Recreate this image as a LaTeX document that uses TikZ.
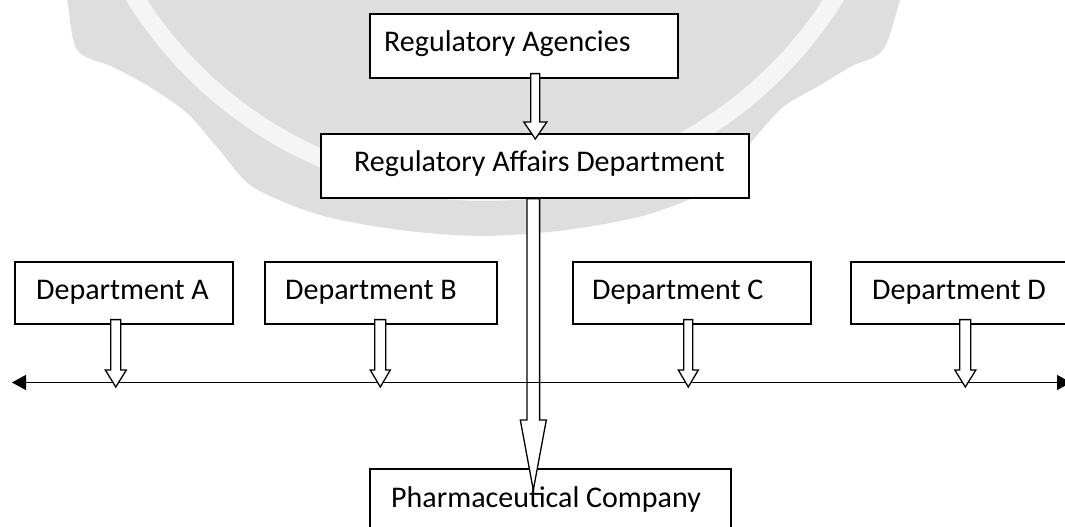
\documentclass[tikz,border=0pt]{standalone}
\usepackage{fontspec}
\setmainfont{Carlito}
\usetikzlibrary{calc,arrows.meta}
\tikzset{
  box/.style={draw=black, line width=1.6pt, fill=white, anchor=north west, inner sep=0pt},
  lbl/.style={anchor=base west, inner sep=0pt, font=\fontsize{30}{36}\selectfont},
  barrow/.style={draw=black, fill=white, line width=1.3pt, line join=miter},
  hline/.style={line width=1.4pt, {Triangle[length=14pt,width=15pt]}-{Triangle[length=14pt,width=15pt]}},
  wm/.style={fill=black!13, draw=none},
  wmring/.style={draw=black!4, line width=18pt},
}
% #1 start, #2 tip, #3 shaft half width, #4 head half width, #5 head length
\newcommand\blockarr[5]{%
  \draw[barrow] ($(#1)+(-#3,0)$) -- ($(#2)+(-#3,-#5)$) -- ($(#2)+(-#4,-#5)$) -- (#2)
    -- ($(#2)+(#4,-#5)$) -- ($(#2)+(#3,-#5)$) -- ($(#1)+(#3,0)$) -- cycle;}
\begin{document}
\begin{tikzpicture}[x=1pt,y=-1pt]
\useasboundingbox (0,0) rectangle (1065,527);
% faint watermark
\begin{scope}
  \clip (0,0) rectangle (1065,527);
  \fill[wm] plot[smooth cycle] coordinates {(60,-10) (67,0) (77,50) (113,67) (150,87) (187,113) (217,147) (253,187) (320,215) (400,230) (483,236) (566,230) (646,215) (713,187) (753,140) (783,107) (817,87) (850,67) (883,50) (900,0) (905,-10) (483,-30)};
  \draw[wmring] (485,-220) circle[radius=412];
\end{scope}

% boxes
\node[box, minimum width=308pt, minimum height=64pt] (ra) at (369,13) {};
\node[box, minimum width=428pt, minimum height=64pt] (rad) at (320,133) {};
\node[box, minimum width=218pt, minimum height=62pt] (da) at (14,261) {};
\node[box, minimum width=232pt, minimum height=62pt] (db) at (264,261) {};
\node[box, minimum width=238pt, minimum height=62pt] (dc) at (572,261) {};
\node[box, minimum width=230pt, minimum height=62pt] (dd) at (850,261) {};
\node[box, minimum width=361pt, minimum height=66pt] (ph) at (369,468) {};

% labels
\node[lbl] (ra-t) at (384,52) {Regulatory Agencies};
\node[lbl] (rad-t) at (354,171) {Regulatory Affairs Department};
\node[lbl] (da-t) at (36,299) {Department A};
\node[lbl] (db-t) at (285,299) {Department B};
\node[lbl] (dc-t) at (592,299) {Department C};
\node[lbl] (dd-t) at (872,299) {Department D};

% connector coordinates
\coordinate (a1s) at ($(ra.south)+(11.5,-5)$);
\coordinate (a1e) at ($(a1s |- rad.north)+(0,6)$);
\coordinate (a2s) at ($(rad.south)+(-1.5,0)$);
\coordinate (a2e) at ($(a2s |- ph.north)+(0,22)$);
\coordinate (hl) at (12,382.5);
\coordinate (hr) at (1071,382.5);
\coordinate (dAs) at ($(da.south)+(-8,-5)$);
\coordinate (dBs) at ($(db.south)+(-0.5,-5)$);
\coordinate (dCs) at ($(dc.south)+(-3.5,-5)$);
\coordinate (dDs) at ($(dd.south)+(-0.5,-5)$);
\coordinate (dAe) at ($(dAs |- hl)+(0,4.5)$);
\coordinate (dBe) at ($(dBs |- hl)+(0,4.5)$);
\coordinate (dCe) at ($(dCs |- hl)+(0,4.5)$);
\coordinate (dDe) at ($(dDs |- hl)+(0,4.5)$);

% connectors
\blockarr{a1s}{a1e}{4.5}{11.5}{17}
\blockarr{a2s}{a2e}{6.3}{13}{70}
\draw[hline] (hl) -- (hr);
\blockarr{dAs}{dAe}{5}{10.5}{17}
\blockarr{dBs}{dBe}{5.5}{10}{17}
\blockarr{dCs}{dCe}{4.5}{10}{17}
\blockarr{dDs}{dDe}{5.5}{10.5}{17}

\node[lbl] (ph-t) at (391,507) {Pharmaceutical Company};
\end{tikzpicture}
\end{document}
